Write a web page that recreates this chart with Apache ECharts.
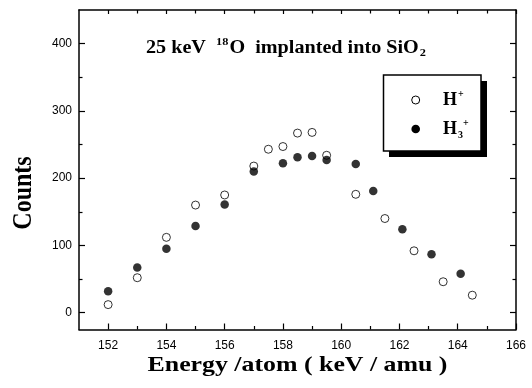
<!DOCTYPE html>
<html>
<head>
<meta charset="utf-8">
<script src="https://cdn.jsdelivr.net/npm/echarts@6/dist/echarts.min.js"></script>
<style>html,body{margin:0;padding:0;background:#fff;}#c{width:532px;height:388px;}</style>
</head>
<body>
<div id="c"></div>
<script>
// Data
const hPlusX = [152, 153, 154, 155, 156, 157, 157.5, 158, 158.5, 159, 159.5, 160.5, 161.5, 162.5, 163.5, 164.5];
const hPlusY = [12, 52, 112, 160, 175, 218, 243, 247, 267, 268, 234, 176, 140, 92, 46, 26];
const h3PlusX = [152, 153, 154, 155, 156, 157, 158, 158.5, 159, 159.5, 160.5, 161.1, 162.1, 163.1, 164.1];
const h3PlusY = [32, 67, 95, 129, 161, 210, 222, 231, 233, 227, 221, 181, 124, 87, 58];
const xMajorTicks = [152, 154, 156, 158, 160, 162, 164, 166];
const xMinorTicks = [153, 155, 157, 159, 161, 163, 165];
const yMajorTicks = [0, 100, 200, 300, 400];
const yMinorTicks = [50, 150, 250, 350];

const chart = echarts.init(document.getElementById('c'), null, {renderer: 'canvas'});
const serif = '"Liberation Serif", "Times New Roman", serif';
const sans = '"Liberation Sans", Arial, sans-serif';
const lineStyle = {color: '#000', width: 1.5};

function xAx(pos, ticks, len, showLine, showLabel) {
  return {
    type: 'value', min: 151, max: 166, position: pos, gridIndex: 0,
    axisLine: {show: showLine, onZero: false, lineStyle: lineStyle},
    axisTick: {show: true, inside: true, length: len, customValues: ticks, lineStyle: {color: '#000', width: 1.2}},
    axisLabel: {show: showLabel, customValues: ticks, margin: 10, color: '#000', fontFamily: sans, fontSize: 12},
    splitLine: {show: false}
  };
}
function yAx(pos, ticks, len, showLine, showLabel) {
  return {
    type: 'value', min: -25, max: 450, position: pos, gridIndex: 0,
    axisLine: {show: showLine, onZero: false, lineStyle: lineStyle},
    axisTick: {show: true, inside: true, length: len, customValues: ticks, lineStyle: {color: '#000', width: 1.2}},
    axisLabel: {show: showLabel, customValues: ticks, margin: 7, color: '#000', fontFamily: sans, fontSize: 12},
    splitLine: {show: false}
  };
}

const option = {
  animation: false,
  backgroundColor: '#fff',
  grid: {left: 79, right: 16, top: 10, bottom: 58.5},
  xAxis: [
    xAx('bottom', xMajorTicks, 6, true, true),
    xAx('bottom', xMinorTicks, 3.5, false, false),
    xAx('top', xMajorTicks, 4, true, false),
    xAx('top', xMinorTicks, 3.5, false, false)
  ],
  yAxis: [
    yAx('left', yMajorTicks, 6, true, true),
    yAx('left', yMinorTicks, 3.5, false, false),
    yAx('right', yMajorTicks, 6, true, false),
    yAx('right', yMinorTicks, 3.5, false, false)
  ],
  series: [
    {
      name: 'H+', type: 'scatter', xAxisIndex: 0, yAxisIndex: 0,
      symbol: 'circle', symbolSize: 8,
      itemStyle: {color: '#fff', borderColor: '#000', borderWidth: 1},
      data: hPlusX.map((x, i) => [x, hPlusY[i]])
    },
    {
      name: 'H3+', type: 'scatter', xAxisIndex: 0, yAxisIndex: 0,
      symbol: 'circle', symbolSize: 8.5,
      itemStyle: {color: '#000'},
      data: h3PlusX.map((x, i) => [x, h3PlusY[i]])
    }
  ],
  graphic: [
    {type: 'text', x: 24, y: 193, rotation: Math.PI / 2, scaleY: 1.1,
     style: {text: 'Counts', font: 'bold 24px ' + serif, fill: '#000', align: 'center', verticalAlign: 'middle'}},
    {type: 'text', x: 297.5, y: 366, scaleX: 1.23,
     style: {text: 'Energy /atom ( keV / amu )', font: 'bold 21px ' + serif, fill: '#000', align: 'center', verticalAlign: 'middle'}},
    {type: 'text', x: 146, y: 48, scaleX: 1.12,
     style: {
       text: '{a|25 keV  }{s|18}{a|O  implanted into SiO}{b|2}',
       verticalAlign: 'middle', align: 'left',
       rich: {
         a: {font: 'bold 18px ' + serif, fill: '#000', lineHeight: 22},
         s: {font: 'bold 11px ' + serif, fill: '#000', verticalAlign: 'top', lineHeight: 22, padding: [0, 1, 9, 0]},
         b: {font: 'bold 11px ' + serif, fill: '#000', verticalAlign: 'bottom', lineHeight: 22, padding: [6, 0, 0, 1]}
       }
     }},
    // legend box with shadow
    {type: 'rect', shape: {x: 389, y: 81, width: 98, height: 76}, style: {fill: '#000'}},
    {type: 'rect', shape: {x: 383.5, y: 75, width: 97.5, height: 76}, style: {fill: '#fff', stroke: '#000', lineWidth: 1.5}},
    {type: 'circle', shape: {cx: 415.7, cy: 100, r: 4}, style: {fill: '#fff', stroke: '#000', lineWidth: 1}},
    {type: 'circle', shape: {cx: 415.7, cy: 129, r: 4.3}, style: {fill: '#000'}},
    {type: 'text', x: 443, y: 100,
     style: {text: '{a|H}{s|+}', verticalAlign: 'middle', align: 'left',
       rich: {
         a: {font: 'bold 18px ' + serif, fill: '#000', lineHeight: 22},
         s: {font: 'bold 10px ' + serif, fill: '#000', verticalAlign: 'top', lineHeight: 22, padding: [0, 0, 10, 1]}
       }}},
    {type: 'text', x: 443, y: 129,
     style: {text: '{a|H}{b|3}{s|+}', verticalAlign: 'middle', align: 'left',
       rich: {
         a: {font: 'bold 18px ' + serif, fill: '#000', lineHeight: 22},
         b: {font: 'bold 10px ' + serif, fill: '#000', verticalAlign: 'bottom', lineHeight: 22, padding: [8, 0, 0, 1]},
         s: {font: 'bold 10px ' + serif, fill: '#000', verticalAlign: 'top', lineHeight: 22, padding: [0, 0, 10, 0]}
       }}}
  ]
};
chart.setOption(option);
</script>
</body>
</html>
